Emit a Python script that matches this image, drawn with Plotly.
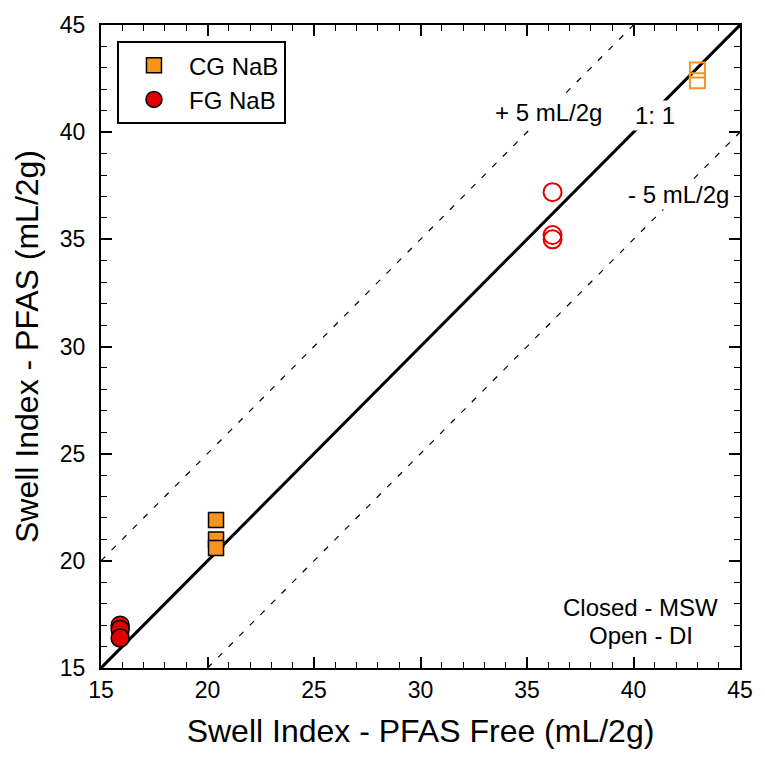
import plotly.graph_objects as go

# Data
cg_closed_x = [20.4, 20.4, 20.4]
cg_closed_y = [21.9, 21.0, 20.6]
fg_closed_x = [15.9, 15.9, 15.9]
fg_closed_y = [17.0, 16.8, 16.4]
cg_open_x = [43.0, 43.0]
cg_open_y = [42.9, 42.4]
fg_open_x = [36.2, 36.2, 36.2]
fg_open_y = [37.2, 35.2, 35.0]

orange = "#F7931E"
red = "#E00000"
font = "Liberation Sans, Arial, sans-serif"

fig = go.Figure()

# Reference lines
fig.add_trace(go.Scatter(x=[15, 45], y=[15, 45], mode="lines",
                         line=dict(color="black", width=3), showlegend=False, hoverinfo="skip"))
fig.add_trace(go.Scatter(x=[15, 40], y=[20, 45], mode="lines",
                         line=dict(color="black", width=1.2, dash="6px,9px"), showlegend=False, hoverinfo="skip"))
fig.add_trace(go.Scatter(x=[20, 45], y=[15, 40], mode="lines",
                         line=dict(color="black", width=1.2, dash="6px,9px"), showlegend=False, hoverinfo="skip"))

fig.add_trace(go.Scatter(x=cg_closed_x, y=cg_closed_y, mode="markers", name="CG NaB",
                         marker=dict(symbol="square", size=15, color=orange,
                                     line=dict(color="black", width=1.5))))
fig.add_trace(go.Scatter(x=fg_closed_x, y=fg_closed_y, mode="markers", name="FG NaB",
                         marker=dict(symbol="circle", size=18, color=red,
                                     line=dict(color="black", width=1.5))))
fig.add_trace(go.Scatter(x=cg_open_x, y=cg_open_y, mode="markers", showlegend=False,
                         marker=dict(symbol="square-open", size=15, color=orange,
                                     line=dict(color=orange, width=2))))
fig.add_trace(go.Scatter(x=fg_open_x, y=fg_open_y, mode="markers", showlegend=False,
                         marker=dict(symbol="circle-open", size=18, color=red,
                                     line=dict(color=red, width=2))))

axis_common = dict(
    range=[15, 45], dtick=5, tick0=15,
    ticks="inside", ticklen=11, tickwidth=1.5, tickcolor="black",
    minor=dict(dtick=1, ticks="inside", ticklen=6, tickwidth=1.2, tickcolor="black"),
    showline=True, linewidth=2, linecolor="black", mirror="allticks",
    showgrid=False, zeroline=False,
    tickfont=dict(size=23, color="black", family=font),
)

fig.update_layout(
    width=765, height=759,
    margin=dict(l=101, r=17, t=20, b=91),
    plot_bgcolor="white", paper_bgcolor="white",
    font=dict(family=font, color="black"),
    xaxis=dict(**axis_common, title=dict(text="Swell Index - PFAS Free (mL/2g)",
                                         font=dict(size=32), standoff=18)),
    yaxis=dict(**axis_common, ticklabelstandoff=9,
               title=dict(text="Swell Index - PFAS (mL/2g)",
                          font=dict(size=32), standoff=12)),
    legend=dict(x=0.025, y=0.975, xanchor="left", yanchor="top",
                bordercolor="black", borderwidth=2, bgcolor="white",
                font=dict(size=24, family=font), itemsizing="trace",
                itemwidth=60, tracegroupgap=0),
    showlegend=True,
)

ann_font = dict(size=24, family=font, color="black")
fig.add_annotation(x=36.0, y=40.9, text="+ 5 mL/2g", showarrow=False, font=ann_font, bgcolor="white")
fig.add_annotation(x=41.0, y=40.8, text="1: 1", showarrow=False, font=ann_font, bgcolor="white")
fig.add_annotation(x=42.1, y=37.1, text="- 5 mL/2g", showarrow=False, font=ann_font, bgcolor="white")
fig.add_annotation(x=40.33, y=17.8, text="Closed - MSW", showarrow=False, font=ann_font)
fig.add_annotation(x=40.33, y=16.5, text="Open - DI", showarrow=False, font=ann_font)

fig.write_html("out.html")
